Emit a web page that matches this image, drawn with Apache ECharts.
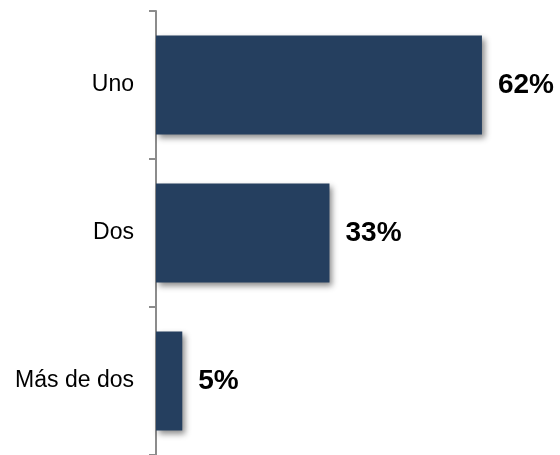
<!DOCTYPE html>
<html><head><meta charset="utf-8">
<script src="https://cdn.jsdelivr.net/npm/echarts@6/dist/echarts.min.js"></script>
<style>html,body{margin:0;padding:0;background:#fff}#c{width:560px;height:455px}</style>
</head><body><div id="c"></div>
<script>
const categories = ['Uno', 'Dos', 'Más de dos'];
const values = [62, 33, 5];
const chart = echarts.init(document.getElementById('c'));
chart.setOption({
  animation: false,
  grid: {left: 156, right: 36, top: 11, bottom: 0},
  xAxis: {type: 'value', min: 0, max: 70, show: false},
  yAxis: {
    type: 'category', data: categories, inverse: true,
    axisLine: {show: true, lineStyle: {color: '#8c8c8c', width: 2}},
    axisTick: {show: true, alignWithLabel: false, length: 7, lineStyle: {color: '#8c8c8c', width: 2}},
    axisLabel: {color: '#000', fontSize: 23, fontFamily: 'Liberation Sans, Arial', margin: 22}
  },
  series: [{
    type: 'bar', data: values, barWidth: 99,
    itemStyle: {color: '#253f5f', shadowColor: 'rgba(0,0,0,0.45)', shadowBlur: 6, shadowOffsetX: 3, shadowOffsetY: 3},
    label: {show: true, position: 'right', distance: 16, formatter: '{c}%', color: '#000', fontSize: 28, fontWeight: 'bold', fontFamily: 'Liberation Sans, Arial'}
  }]
});
</script></body></html>
